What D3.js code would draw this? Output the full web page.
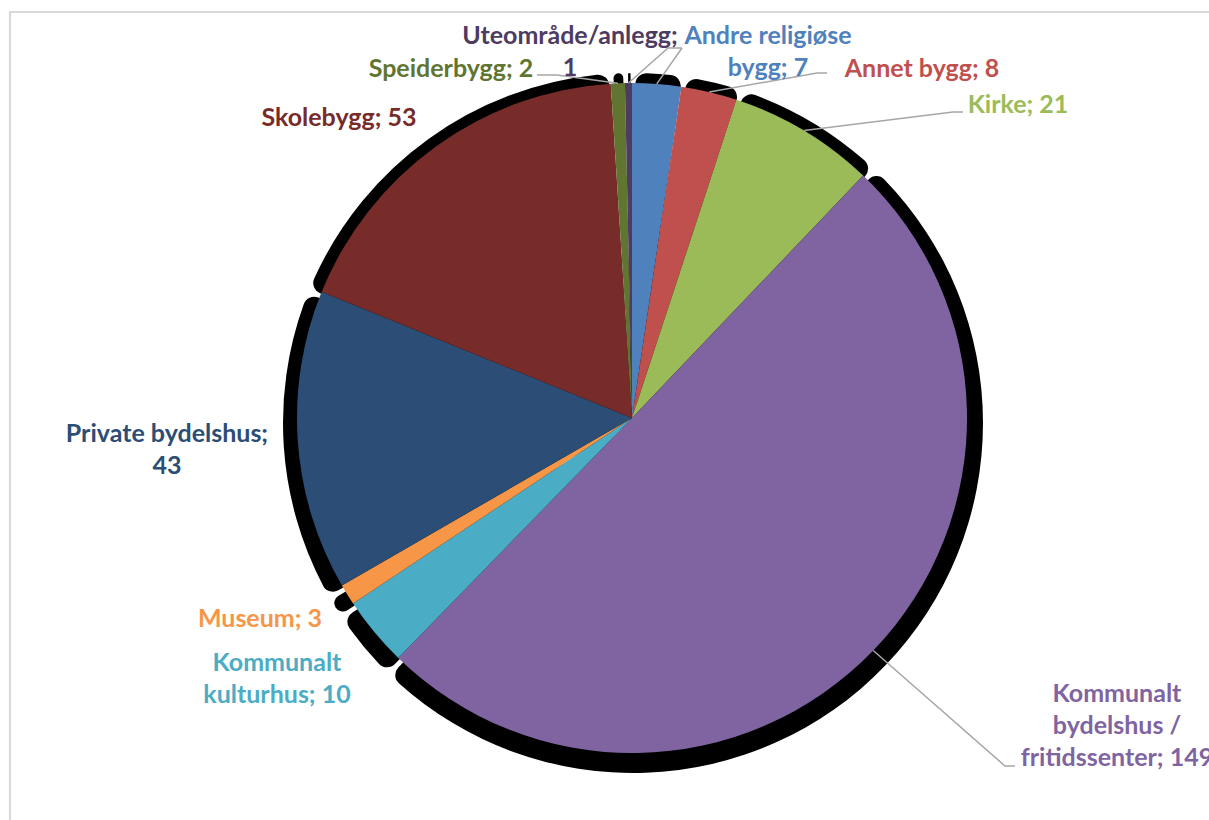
<!DOCTYPE html>
<html>
<head>
<meta charset="utf-8">
<script src="https://cdn.jsdelivr.net/npm/d3@7"></script>
<style>
  html, body { margin: 0; padding: 0; background: #fff; }
  svg { display: block; }
  text { font-family: Lato, "Open Sans", sans-serif; font-weight: bold; }
</style>
</head>
<body>
<svg id="chart" width="1209" height="820"></svg>
<script>
// ---- data ----
const categories = ["Andre religiøse bygg", "Annet bygg", "Kirke", "Kommunalt bydelshus / fritidssenter",
  "Kommunalt kulturhus", "Museum", "Private bydelshus", "Skolebygg", "Speiderbygg", "Uteområde/anlegg"];
const values = [7, 8, 21, 149, 10, 3, 43, 53, 2, 1];
const labelLines = [
  ["Andre religiøse", "bygg; 7"],
  ["Annet bygg; 8"],
  ["Kirke; 21"],
  ["Kommunalt", "bydelshus /", "fritidssenter; 149"],
  ["Kommunalt", "kulturhus; 10"],
  ["Museum; 3"],
  ["Private bydelshus;", "43"],
  ["Skolebygg; 53"],
  ["Speiderbygg; 2"],
  ["Uteområde/anlegg;", "1"]
];
const colors = ["#4F81BD", "#C0504D", "#9BBB59", "#8064A2", "#4BACC6", "#F79646",
  "#2C4D75", "#772C2A", "#5F7530", "#4D3B62"];

// ---- layout ----
const W = 1209, H = 820;
const cx = 632, cy = 418, R = 335;
const shadowCx = 633, shadowCy = 423, shadowR = 350;
const fontSize = 25, lineH = 32;
// label anchor (center x, center y of first line)
const labelPos = [
  [768, 35], [922, 68], [1018, 104], [1117, 693], [277, 662],
  [260, 618], [167, 433], [339, 117], [451, 68], [570, 35]
];
// leader line elbow points (label side), null = no leader
const leaderPts = [
  [[682, 48]],
  [[817, 73], [827, 73]],
  [[953, 112], [963, 112]],
  [[1005, 766], [1015, 766]],
  null, null, null, null,
  [[557, 75], [537, 75]],
  [[668, 48], [682, 48]]
];

const svg = d3.select("#chart");

// chart frame (only top/left edges visible)
svg.append("path")
  .attr("d", `M10,${H + 5} L10,12 L${W + 5},12`)
  .attr("fill", "none").attr("stroke", "#D9D9D9").attr("stroke-width", 2.2);

const pie = d3.pie().sort(null).value(d => d);
const arcs = pie(values);

// shadows
const shadowArc = d3.arc().innerRadius(0).outerRadius(shadowR).cornerRadius(11).padAngle(0.014);
svg.append("g").attr("transform", `translate(${shadowCx},${shadowCy})`)
  .selectAll("path").data(arcs).join("path")
  .attr("d", shadowArc).attr("fill", "#000");

// slices
const arc = d3.arc().innerRadius(0).outerRadius(R);
svg.append("g").attr("transform", `translate(${cx},${cy})`)
  .selectAll("path").data(arcs).join("path")
  .attr("d", arc).attr("fill", (d, i) => colors[i]);

// leader lines
const edgeArc = d3.arc().innerRadius(R).outerRadius(R);
const lineGen = d3.line();
arcs.forEach((a, i) => {
  if (!leaderPts[i]) return;
  const c = edgeArc.centroid(a);
  const pts = [[c[0] + cx, c[1] + cy], ...leaderPts[i]];
  svg.append("path").attr("d", lineGen(pts))
    .attr("fill", "none").attr("stroke", "#A6A6A6").attr("stroke-width", 1.5);
});

// labels
labelLines.forEach((lines, i) => {
  const t = svg.append("text")
    .attr("text-anchor", "middle")
    .attr("font-size", fontSize)
    .attr("fill", colors[i]);
  lines.forEach((ln, j) => {
    t.append("tspan").attr("x", labelPos[i][0]).attr("y", labelPos[i][1] + j * lineH)
      .attr("dy", "0.36em").text(ln);
  });
});
</script>
</body>
</html>
